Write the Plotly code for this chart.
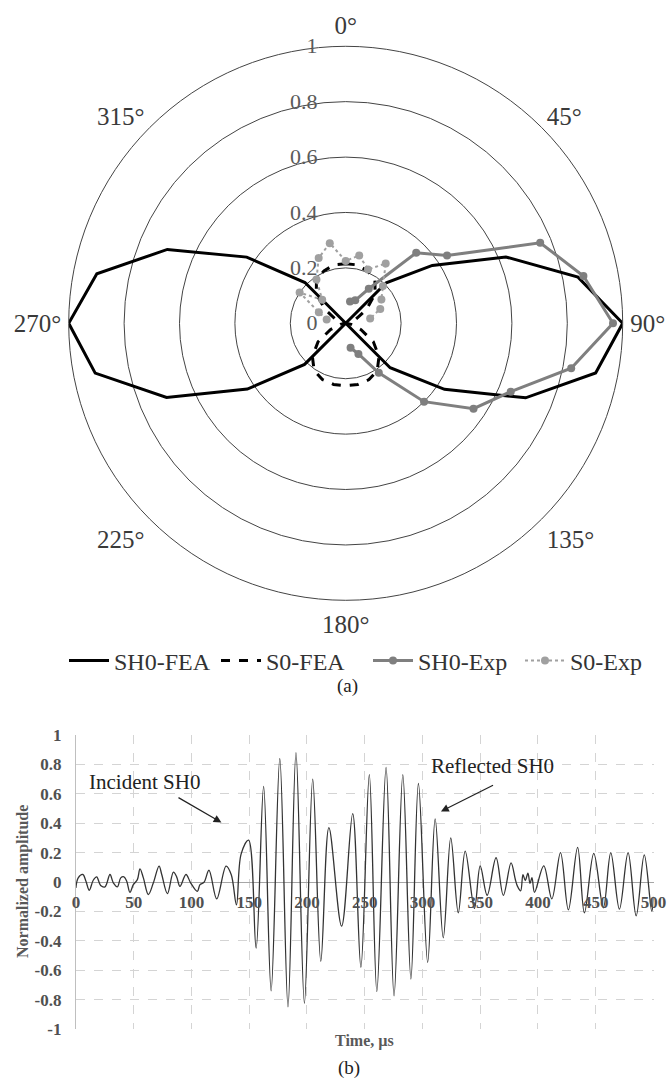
import plotly.graph_objects as go

# ---------------- (a) polar data ----------------
ANGLES = [i * 11.25 for i in range(32)]  # category angles of the radar chart (deg)
SH0_FEA = [0, 0, 0, 0, 0.207, 0.376, 0.626, 0.855, 1.0, 0.92, 0.703, 0.429, 0.227, 0, 0, 0,
           0, 0, 0, 0, 0.21, 0.427, 0.70, 0.922, 1.0, 0.916, 0.697, 0.43, 0.208, 0, 0, 0]
S0_FEA = [0.215, 0.215, 0.205, 0.19, 0.15, 0.09, 0.04, 0.015, 0, 0.02, 0.06, 0.12, 0.17, 0.205, 0.22, 0.225,
          0.225, 0.225, 0.22, 0.205, 0.17, 0.12, 0.06, 0.02, 0, 0.015, 0.04, 0.09, 0.15, 0.19, 0.205, 0.215]
SH0_EXP_ANG = [11.25, 22.5, 33.75, 45, 56.25, 67.5, 78.75, 90, 101.25, 112.5, 123.75, 135, 146.25, 157.5, 168.75]
SH0_EXP = [0.08, 0.09, 0.15, 0.36, 0.44, 0.76, 0.875, 0.965, 0.83, 0.645, 0.555, 0.40, 0.215, 0.12, 0.09]
S0_EXP_ANG = [281.25, 292.5, 303.75, 315, 326.25, 337.5, 348.75, 0, 11.25, 22.5, 33.75, 45, 56.25, 67.5, 78.75]
S0_EXP = [0.07, 0.105, 0.20, 0.12, 0.19, 0.255, 0.295, 0.225, 0.25, 0.21, 0.26, 0.19, 0.155, 0.135, 0.09]
ANG_TICKS = [0, 45, 90, 135, 180, 225, 270, 315]
ANG_LABELS = ["0°", "45°", "90°", "135°", "180°", "225°", "270°", "315°"]
R_TICKS = [0, 0.2, 0.4, 0.6, 0.8, 1.0]
R_LABELS = ["0", "0.2", "0.4", "0.6", "0.8", "1"]

# ---------------- (b) time signal ----------------
T_US = [0, 2, 6, 8.7, 11.6, 15, 18, 21.4, 25.2, 29.5,
        32.4, 35.9, 38.8, 41.6, 44, 46.8, 49.7, 53.2, 55.5, 58.4,
        62.7, 67, 72, 74.3, 79.2, 84.4, 87.2, 90.1, 95.3, 99.4,
        105.1, 107.4, 110.9, 115.2, 121.9, 130, 134.5, 139, 143, 149.5,
        156, 162.5, 169, 176.5, 183.6, 190.5, 197.8, 205, 212, 219,
        230, 239.6, 246.7, 254, 260.5, 268.5, 275.4, 283, 290, 296.5,
        304.5, 311, 318, 324.5, 331, 337, 345, 350, 356, 363.7,
        370, 376.7, 380.4, 382.2, 385, 387, 389, 391.3, 393.1, 394.8,
        397, 405, 412, 419.5, 426.3, 434.3, 440.2, 448.3, 456.6, 463,
        470.5, 478, 485, 492, 498.5, 500]
AMP = [-0.04, 0.028, 0.051, 0.005, -0.056, 0.012, 0.035, -0.024, -0.033, 0.051,
       -0.006, -0.033, 0.028, 0.035, 0.005, -0.07, -0.018, 0.016, 0.089, 0.028,
       -0.085, -0.007, 0.108, 0.051, -0.079, 0.067, 0.035, -0.03, 0.051, -0.007,
       -0.064, -0.018, -0.002, 0.08, -0.115, 0.108, 0.05, -0.155, 0.19, 0.285,
       -0.45, 0.65, -0.74, 0.84, -0.85, 0.88, -0.825, 0.70, -0.54, 0.37,
       -0.30, 0.465, -0.58, 0.73, -0.745, 0.78, -0.775, 0.73, -0.66, 0.67,
       -0.547, 0.43, -0.38, 0.30, -0.21, 0.21, -0.18, 0.11, -0.09, 0.165,
       -0.09, 0.13, 0.017, -0.028, -0.06, 0.05, 0.01, 0.06, -0.01, 0.03,
       -0.07, 0.11, -0.115, 0.2, -0.19, 0.235, -0.21, 0.195, -0.175, 0.2,
       -0.185, 0.2, -0.23, 0.185, -0.2, -0.1]
X_TICKS = list(range(0, 501, 50))
Y_TICKS = [-1, -0.8, -0.6, -0.4, -0.2, 0, 0.2, 0.4, 0.6, 0.8, 1]
Y_LABELS = ["-1", "-0.8", "-0.6", "-0.4", "-0.2", "0", "0.2", "0.4", "0.6", "0.8", "1"]

SERIF = "Liberation Serif, Times New Roman, serif"
W, H = 668, 1082

def closed(seq):
    return list(seq) + [seq[0]]

fig = go.Figure()
fig.add_trace(go.Scatterpolar(r=closed(SH0_FEA), theta=closed(ANGLES), mode="lines", name="SH0-FEA",
                              line=dict(color="black", width=3), subplot="polar"))
fig.add_trace(go.Scatterpolar(r=closed(S0_FEA), theta=closed(ANGLES), mode="lines", name="S0-FEA",
                              line=dict(color="black", width=3, dash="dash"), subplot="polar"))
fig.add_trace(go.Scatterpolar(r=SH0_EXP, theta=SH0_EXP_ANG, mode="lines+markers", name="SH0-Exp",
                              line=dict(color="#7f7f7f", width=3), marker=dict(size=8, color="#7f7f7f"),
                              subplot="polar"))
fig.add_trace(go.Scatterpolar(r=S0_EXP, theta=S0_EXP_ANG, mode="lines+markers", name="S0-Exp",
                              line=dict(color="#a0a0a0", width=2, dash="dot"), marker=dict(size=8, color="#a0a0a0"),
                              subplot="polar"))

fig.add_trace(go.Scatter(x=T_US, y=AMP, mode="lines", line=dict(color="#333333", width=1.3, shape="spline"),
                         showlegend=False, xaxis="x", yaxis="y"))

ydom = [1 - 1029 / H, 1 - 735 / H]
xdom = [75.9 / W, 653.5 / W]

fig.update_layout(
    width=W, height=H, margin=dict(l=0, r=0, t=0, b=0, autoexpand=False),
    paper_bgcolor="white", plot_bgcolor="white",
    font=dict(family=SERIF, color="#333333"),
    polar=dict(
        domain=dict(x=[68.7 / W, 622.7 / W], y=[1 - 600.3 / H, 1 - 46.3 / H]),
        bgcolor="white",
        angularaxis=dict(direction="clockwise", rotation=90, tickmode="array", tickvals=ANG_TICKS,
                         ticktext=ANG_LABELS, showgrid=False, showline=True, linecolor="#444444", linewidth=1,
                         ticks="outside", ticklen=2, tickcolor="rgba(0,0,0,0)",
                         tickfont=dict(family=SERIF, size=25, color="#3a3a3a")),
        radialaxis=dict(range=[0, 1], angle=90, tickangle=90, tickmode="array", tickvals=R_TICKS, ticktext=R_LABELS,
                        showline=False, showgrid=True, gridcolor="#444444", gridwidth=1,
                        side="counterclockwise", ticks="outside", ticklen=20, tickcolor="rgba(0,0,0,0)",
                        tickfont=dict(family=SERIF, size=22, color="#5a5a5a")),
    ),
    legend=dict(orientation="h", x=64 / W, xanchor="left", y=1 - 661 / H, yanchor="middle",
                font=dict(family=SERIF, size=24, color="#333333"), itemwidth=40, tracegroupgap=0,
                entrywidth=97, entrywidthmode="pixels", bgcolor="rgba(0,0,0,0)"),
    xaxis=dict(domain=xdom, range=[0, 500], anchor="y", tickvals=X_TICKS, showticklabels=False,
               showgrid=True, gridcolor="#d4d4d4", griddash="dash", gridwidth=1, zeroline=False,
               showline=False, automargin=False),
    xaxis2=dict(overlaying="x", anchor="free", position=(ydom[0] + ydom[1]) / 2, range=[0, 500],
                tickvals=X_TICKS, ticktext=[f"<b>{v}</b>" for v in X_TICKS], showgrid=False, zeroline=False,
                showline=False, ticks="outside", ticklen=5, tickcolor="rgba(0,0,0,0)", automargin=False,
                tickfont=dict(family=SERIF, size=17, color="#505050")),
    yaxis=dict(domain=ydom, range=[-1, 1], anchor="x", tickvals=Y_TICKS,
               ticktext=[f"<b>{v}</b>" for v in Y_LABELS], showgrid=True, gridcolor="#d4d4d4",
               griddash="dash", gridwidth=1, zeroline=True, zerolinecolor="#a6a6a6", zerolinewidth=1,
               showline=True, linecolor="#bfbfbf", linewidth=1, ticks="outside", ticklen=10,
               tickcolor="rgba(0,0,0,0)", tickfont=dict(family=SERIF, size=17, color="#505050"),
               automargin=False),
)

# empty trace to activate xaxis2 ticks
fig.add_trace(go.Scatter(x=[None], y=[None], xaxis="x2", yaxis="y", showlegend=False, hoverinfo="skip"))

title_font = dict(family=SERIF, size=16, color="#595959")
fig.add_annotation(x=(xdom[0] + xdom[1]) / 2, y=1 - 1041 / H, xref="paper", yref="paper",
                   xanchor="center", yanchor="middle",
                   text="<b>Time, µs</b>", showarrow=False, font=title_font)
fig.add_annotation(x=23 / W, y=(ydom[0] + ydom[1]) / 2, xref="paper", yref="paper", textangle=-90,
                   xanchor="center", yanchor="middle",
                   text="<b>Normalized amplitude</b>", showarrow=False, font=title_font)

ann_font = dict(family=SERIF, size=21, color="#222222")
fig.add_annotation(x=126, y=0.405, ax=87.5, ay=0.58, xref="x", yref="y", axref="x", ayref="y", text="",
                   showarrow=True, arrowhead=2, arrowsize=1.3, arrowwidth=1.2, arrowcolor="#222222")
fig.add_annotation(x=316, y=0.48, ax=362.4, ay=0.663, xref="x", yref="y", axref="x", ayref="y", text="",
                   showarrow=True, arrowhead=2, arrowsize=1.3, arrowwidth=1.2, arrowcolor="#222222")
fig.add_annotation(x=59.8, y=0.679, xref="x", yref="y", text="Incident SH0", showarrow=False, font=ann_font,
                   xanchor="center", yanchor="middle")
fig.add_annotation(x=361, y=0.788, xref="x", yref="y", text="Reflected SH0", showarrow=False, font=ann_font,
                   xanchor="center", yanchor="middle")
fig.add_annotation(x=347 / W, y=1 - 686 / H, xref="paper", yref="paper", text="(a)", showarrow=False,
                   xanchor="center", yanchor="middle", font=dict(family=SERIF, size=19, color="#222222"))
fig.add_annotation(x=349 / W, y=1 - 1068 / H, xref="paper", yref="paper", text="(b)", showarrow=False,
                   xanchor="center", yanchor="middle", font=dict(family=SERIF, size=19, color="#222222"))

fig.write_html("out.html", config={"displayModeBar": False},
               post_script="document.body.style.margin='0px';")
